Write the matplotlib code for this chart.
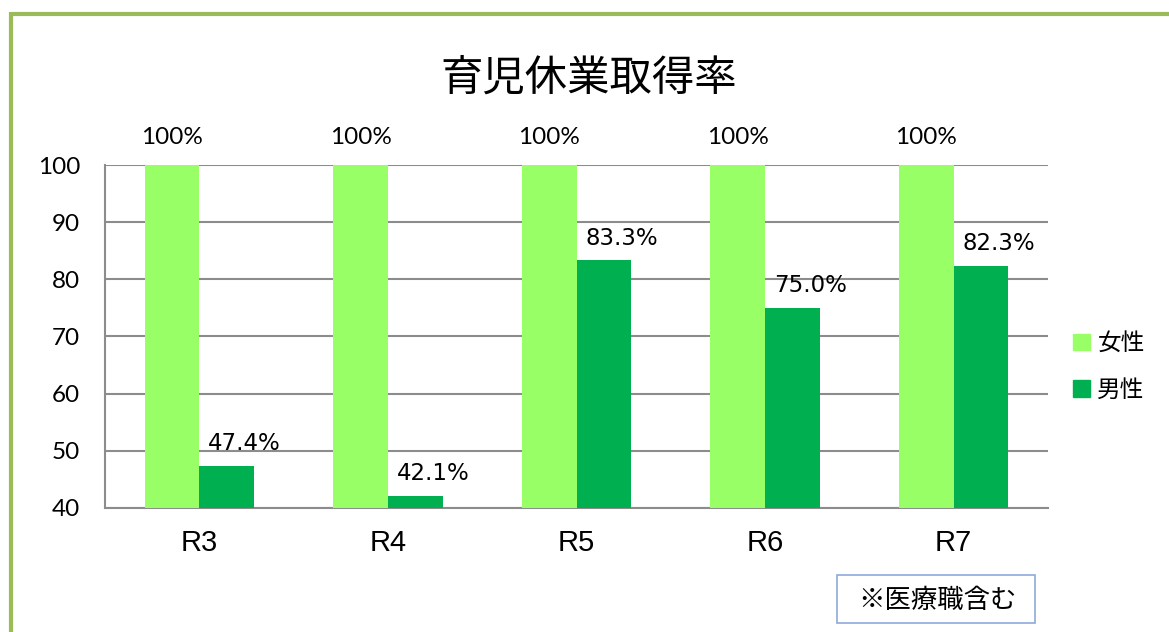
import numpy as np
import matplotlib.pyplot as plt
from matplotlib.lines import Line2D
from matplotlib.patches import Rectangle

# data
years = ['R3', 'R4', 'R5', 'R6', 'R7']
female = [100, 100, 100, 100, 100]
male = [47.4, 42.1, 83.3, 75.0, 82.3]
female_labels = ['100%', '100%', '100%', '100%', '100%']
male_labels = ['47.4%', '42.1%', '83.3%', '75.0%', '82.3%']
legend_names = ['女性', '男性']
title = '育児休業取得率'
note = '※医療職含む'

c_female = '#99FF66'
c_male = '#00B050'
c_grid = '#8C8C8C'
c_frame = '#9BBB59'

W, H = 1169, 632
fig = plt.figure(figsize=(W / 100, H / 100), dpi=100)
ax = fig.add_axes([105 / W, 1 - 508 / H, (1048 - 105) / W, (508 - 165) / H])

x = np.arange(len(years))
bw = 0.29
base = 40
ax.bar(x - bw / 2, np.array(female) - base, bw, bottom=base, color=c_female, zorder=3)
ax.bar(x + bw / 2, np.array(male) - base, bw, bottom=base, color=c_male, zorder=3)

for i in range(len(years)):
    ax.annotate(female_labels[i], (x[i] - bw / 2, female[i]), xytext=(0, 20),
                textcoords='offset points', ha='center', va='center',
                fontsize=17.5, family='Lato')
    ax.annotate(male_labels[i], (x[i] + bw / 2, male[i]), xytext=(13, 16),
                textcoords='offset points', ha='center', va='center',
                fontsize=16.5, family='DejaVu Sans')

ax.set_xlim(-0.5, len(years) - 0.5)
ax.set_ylim(40, 100)
ax.set_yticks(range(40, 101, 10))
ax.yaxis.grid(True, color=c_grid, linewidth=1.5, zorder=0)
ax.set_axisbelow(True)
ax.set_xticks(x)
ax.set_xticklabels(years, family='Liberation Sans', fontsize=21)
for lab in ax.get_yticklabels():
    lab.set_family('Lato')
    lab.set_fontsize(17.5)
ax.tick_params(axis='y', length=0, pad=18)
ax.tick_params(axis='x', length=0, pad=15)
for s in ['top', 'right']:
    ax.spines[s].set_visible(False)
for s in ['left', 'bottom']:
    ax.spines[s].set_color(c_grid)
    ax.spines[s].set_linewidth(1.5)

handles = [Rectangle((0, 0), 1, 1, color=c_female), Rectangle((0, 0), 1, 1, color=c_male)]
fig.legend(handles, legend_names, loc='center left', bbox_to_anchor=(1052 / W, 1 - 367 / H),
           frameon=False, prop={'family': 'Noto Sans CJK JP', 'size': 17},
           handlelength=0.72, handleheight=0.72, handletextpad=0.3, labelspacing=1.0)

fig.text(589 / W, 1 - 79 / H, title, ha='center', va='center',
         family='Noto Sans CJK JP', fontsize=30.5)

# note box
fig.patches.append(Rectangle((837 / W, 1 - 623 / H), (1035 - 837) / W, 48 / H,
                             transform=fig.transFigure, fill=False,
                             edgecolor='#8EA9DB', linewidth=1.2))
fig.text(937 / W, 1 - 601 / H, note, ha='center', va='center',
         family='Noto Sans CJK JP', fontsize=19)

# green frame
fig.add_artist(Line2D([11 / W, 1], [1 - 14 / H, 1 - 14 / H], transform=fig.transFigure,
                      color=c_frame, linewidth=3, solid_capstyle='butt'))
fig.add_artist(Line2D([11 / W, 11 / W], [1 - 12 / H, 0], transform=fig.transFigure,
                      color=c_frame, linewidth=3, solid_capstyle='butt'))

fig.savefig('out.png', dpi=100)
